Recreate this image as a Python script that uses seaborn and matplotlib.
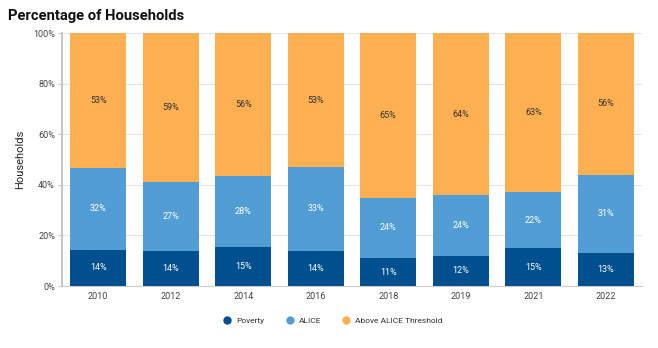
import matplotlib
matplotlib.use("Agg")
import matplotlib.pyplot as plt
from matplotlib.lines import Line2D
import seaborn as sns
import pandas as pd
import numpy as np

years = ["2010", "2012", "2014", "2016", "2018", "2019", "2021", "2022"]
poverty = [14.4, 14.0, 15.3, 14.0, 11.0, 12.0, 15.0, 13.0]
alice = [32.3, 27.0, 28.3, 33.0, 24.0, 24.0, 22.0, 31.0]
above = [53.3, 59.0, 56.4, 53.0, 65.0, 64.0, 63.0, 56.0]
series_names = ["Poverty", "ALICE", "Above ALICE Threshold"]
colors = ["#00508f", "#529ed4", "#fdb052"]

sns.set_theme(style="white")
plt.rcParams["font.family"] = ["Roboto", "DejaVu Sans"]

df = pd.DataFrame({"year": years, "Poverty": poverty, "ALICE": alice, "Above": above})
df["c1"] = df["Poverty"]
df["c2"] = df["Poverty"] + df["ALICE"]
df["c3"] = df["c2"] + df["Above"]

fig = plt.figure(figsize=(6.58, 3.48), dpi=100)
ax = fig.add_axes([0.0942, 0.178, 0.8815, 0.727])

w = 0.77
sns.barplot(data=df, x="year", y="c3", color=colors[2], width=w, saturation=1, ax=ax, zorder=2, linewidth=0)
sns.barplot(data=df, x="year", y="c2", color=colors[1], width=w, saturation=1, ax=ax, zorder=3, linewidth=0)
sns.barplot(data=df, x="year", y="c1", color=colors[0], width=w, saturation=1, ax=ax, zorder=4, linewidth=0)

for i in range(len(years)):
    p, a, b = df.loc[i, "Poverty"], df.loc[i, "ALICE"], df.loc[i, "Above"]
    ax.text(i, p / 2, f"{round(p):.0f}%", ha="center", va="center", fontsize=6.5, color="white", zorder=5)
    ax.text(i, p + a / 2, f"{round(a):.0f}%", ha="center", va="center", fontsize=6.5, color="white", zorder=5)
    ax.text(i, p + a + b / 2, f"{round(b):.0f}%", ha="center", va="center", fontsize=6.5, color="#333333", zorder=5)

ax.set_ylim(0, 100)
ax.set_xlim(-0.5, len(years) - 0.5)
ax.set_yticks([0, 20, 40, 60, 80, 100])
ax.set_yticklabels([f"{v}%" for v in [0, 20, 40, 60, 80, 100]], fontsize=6.5, color="#444444")
ax.tick_params(axis="x", labelsize=6.5, colors="#444444", length=0, pad=4)
ax.tick_params(axis="y", length=3, color="#cccccc", width=0.8, pad=2, left=True)
ax.grid(axis="y", color="#e6e6e6", linewidth=0.8, zorder=0)
ax.set_axisbelow(True)
for s in ["top", "right"]:
    ax.spines[s].set_visible(False)
ax.spines["left"].set_color("#bbbbbb")
ax.spines["left"].set_linewidth(1.2)
ax.spines["bottom"].set_color("#cccccc")
ax.spines["bottom"].set_linewidth(0.8)
ax.set_xlabel("")
ax.set_ylabel("Households", fontsize=8, color="#222222", labelpad=6)

fig.text(0.012, 0.955, "Percentage of Households", fontsize=10.6, fontweight="bold", color="#111111", ha="left", va="center")

handles = [Line2D([0], [0], marker="o", linestyle="", markerfacecolor=c, markeredgecolor=c, markersize=5) for c in colors]
fig.legend(handles, series_names, loc="center", bbox_to_anchor=(0.503, 0.08), ncol=3, frameon=False,
           fontsize=6, handletextpad=0.1, columnspacing=2.0, labelcolor="#333333")

fig.savefig("out.png", dpi=100)
